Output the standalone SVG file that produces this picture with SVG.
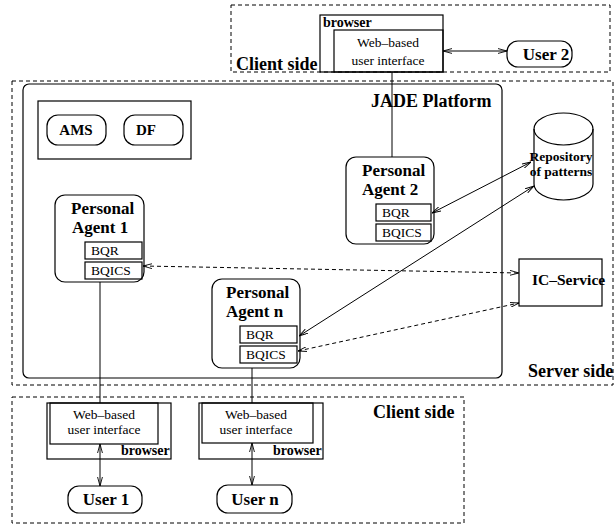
<svg xmlns="http://www.w3.org/2000/svg" width="615" height="525" viewBox="0 0 615 525">
<style>
  .box { fill: none; stroke: #000; stroke-width: 1.2; }
  .dash { fill: none; stroke: #000; stroke-width: 1; stroke-dasharray: 4,3; }
  .ln { fill: none; stroke: #000; stroke-width: 1; }
  .dln { fill: none; stroke: #000; stroke-width: 1; stroke-dasharray: 4,3; }
  .t { font-family: "Liberation Serif", "Times New Roman", serif; fill: #000; }
  .b { font-weight: bold; }
  .big { font-size: 18px; font-weight: bold; }
  .pa { font-size: 17px; font-weight: bold; }
  .sm { font-size: 13.5px; }
  .br { font-size: 14px; font-weight: bold; }
</style>
<defs>
  <marker id="ah" viewBox="0 0 10 6" refX="10" refY="3" markerWidth="9" markerHeight="5.5" markerUnits="userSpaceOnUse" orient="auto-start-reverse">
    <path d="M0,0.3 L10,3 L0,5.7" fill="none" stroke="#000" stroke-width="1"/>
  </marker>
</defs>

<!-- Region boxes -->
<g id="client-top">
  <rect class="dash" x="231" y="5" width="379" height="67"/>
  <text class="t big" x="236" y="70">Client side</text>
</g>
<g id="server-side">
  <rect class="dash" x="12" y="81" width="601" height="304"/>
  <text class="t big" x="528" y="377">Server side</text>
</g>
<g id="client-bottom">
  <rect class="dash" x="12" y="397" width="452" height="126"/>
  <text class="t big" x="373" y="418">Client side</text>
</g>
<g id="jade-platform">
  <rect class="box" x="23" y="84" width="479" height="294" rx="6"/>
  <text class="t big" x="371" y="107">JADE Platform</text>
</g>

<!-- Top client browser -->
<g id="browser-top">
  <rect class="box" x="320" y="15" width="123" height="57"/>
  <text class="t br" x="323" y="27">browser</text>
  <rect class="box" x="334" y="30" width="109" height="42"/>
  <text class="t sm" x="388" y="47" text-anchor="middle">Web–based</text>
  <text class="t sm" x="388" y="65" text-anchor="middle">user interface</text>
</g>
<g id="user2">
  <rect class="box" x="507" y="41" width="65" height="26" rx="11"/>
  <text class="t pa" x="546" y="60" text-anchor="middle">User 2</text>
</g>

<!-- AMS / DF -->
<g id="ams-df">
  <rect class="box" x="38" y="101" width="153" height="58"/>
</g>
<g id="ams">
  <rect class="box" x="47" y="115" width="59" height="30" rx="11"/>
  <text class="t b" x="76" y="135" font-size="15" text-anchor="middle">AMS</text>
</g>
<g id="df">
  <rect class="box" x="124" y="115" width="59" height="30" rx="11"/>
  <text class="t b" x="136" y="135" font-size="15">DF</text>
</g>

<!-- Personal Agents -->
<g id="pa1">
  <rect class="box" x="55" y="195" width="89" height="87" rx="10"/>
  <text class="t pa" x="71" y="214">Personal</text>
  <text class="t pa" x="72" y="233">Agent 1</text>
  <rect class="box" x="85" y="242" width="57" height="17"/>
  <text class="t sm" x="91" y="255">BQR</text>
  <rect class="box" x="85" y="262" width="57" height="17"/>
  <text class="t sm" x="91" y="275">BQICS</text>
</g>
<g id="pa2">
  <rect class="box" x="346" y="157" width="88" height="87" rx="10"/>
  <text class="t pa" x="362" y="176">Personal</text>
  <text class="t pa" x="362" y="195">Agent 2</text>
  <rect class="box" x="376" y="204" width="55" height="17"/>
  <text class="t sm" x="382" y="217">BQR</text>
  <rect class="box" x="376" y="224" width="55" height="17"/>
  <text class="t sm" x="382" y="237">BQICS</text>
</g>
<g id="pan">
  <rect class="box" x="212" y="279" width="88" height="89" rx="10"/>
  <text class="t pa" x="226" y="298">Personal</text>
  <text class="t pa" x="226" y="317">Agent n</text>
  <rect class="box" x="240" y="326" width="57" height="17"/>
  <text class="t sm" x="246" y="339">BQR</text>
  <rect class="box" x="240" y="346" width="57" height="17"/>
  <text class="t sm" x="246" y="359">BQICS</text>
</g>

<!-- Repository -->
<g id="repository">
  <ellipse class="box" cx="563.5" cy="129" rx="29.5" ry="16"/>
  <path class="box" d="M534,129 V184 A29.5,16 0 0 0 593,184 V129"/>
  <text class="t b" x="561" y="161" font-size="13.5" text-anchor="middle">Repository</text>
  <text class="t b" x="561" y="176" font-size="13.5" text-anchor="middle">of patterns</text>
</g>

<!-- IC-Service -->
<g id="ic-service">
  <rect class="box" x="519" y="259" width="83" height="47"/>
  <text class="t b" x="532" y="285" font-size="15.5">IC–Service</text>
</g>

<!-- Bottom browsers -->
<g id="browser1">
  <rect class="box" x="47" y="403" width="124" height="56"/>
  <rect class="box" x="50" y="403" width="108" height="41"/>
  <text class="t sm" x="104" y="419" text-anchor="middle">Web–based</text>
  <text class="t sm" x="104" y="434" text-anchor="middle">user interface</text>
  <text class="t br" x="121" y="455">browser</text>
</g>
<g id="browsern">
  <rect class="box" x="199" y="403" width="124" height="56"/>
  <rect class="box" x="202" y="403" width="111" height="40"/>
  <text class="t sm" x="256" y="419" text-anchor="middle">Web–based</text>
  <text class="t sm" x="256" y="434" text-anchor="middle">user interface</text>
  <text class="t br" x="273" y="455">browser</text>
</g>
<g id="user1">
  <rect class="box" x="68" y="486" width="74" height="27" rx="11"/>
  <text class="t pa" x="106" y="505" text-anchor="middle">User 1</text>
</g>
<g id="usern">
  <rect class="box" x="217" y="485" width="75" height="28" rx="11"/>
  <text class="t pa" x="255" y="505" text-anchor="middle">User n</text>
</g>

<!-- Connectors -->
<g id="connectors">
  <line class="ln" x1="443" y1="51" x2="507" y2="51" marker-start="url(#ah)" marker-end="url(#ah)"/>
  <line class="ln" x1="392" y1="72" x2="392" y2="157"/>
  <line class="ln" x1="432" y1="213" x2="531" y2="162" marker-start="url(#ah)" marker-end="url(#ah)"/>
  <line class="ln" x1="299" y1="336" x2="534" y2="186" marker-start="url(#ah)" marker-end="url(#ah)"/>
  <line class="dln" x1="143" y1="266" x2="519" y2="273" marker-start="url(#ah)" marker-end="url(#ah)"/>
  <line class="dln" x1="298" y1="351" x2="519" y2="303" marker-start="url(#ah)" marker-end="url(#ah)"/>
  <line class="ln" x1="100" y1="282" x2="100" y2="403"/>
  <line class="ln" x1="252" y1="368" x2="252" y2="403"/>
  <line class="ln" x1="100" y1="444" x2="100" y2="486" marker-start="url(#ah)" marker-end="url(#ah)"/>
  <line class="ln" x1="252" y1="443" x2="252" y2="485" marker-start="url(#ah)" marker-end="url(#ah)"/>
</g>
</svg>
